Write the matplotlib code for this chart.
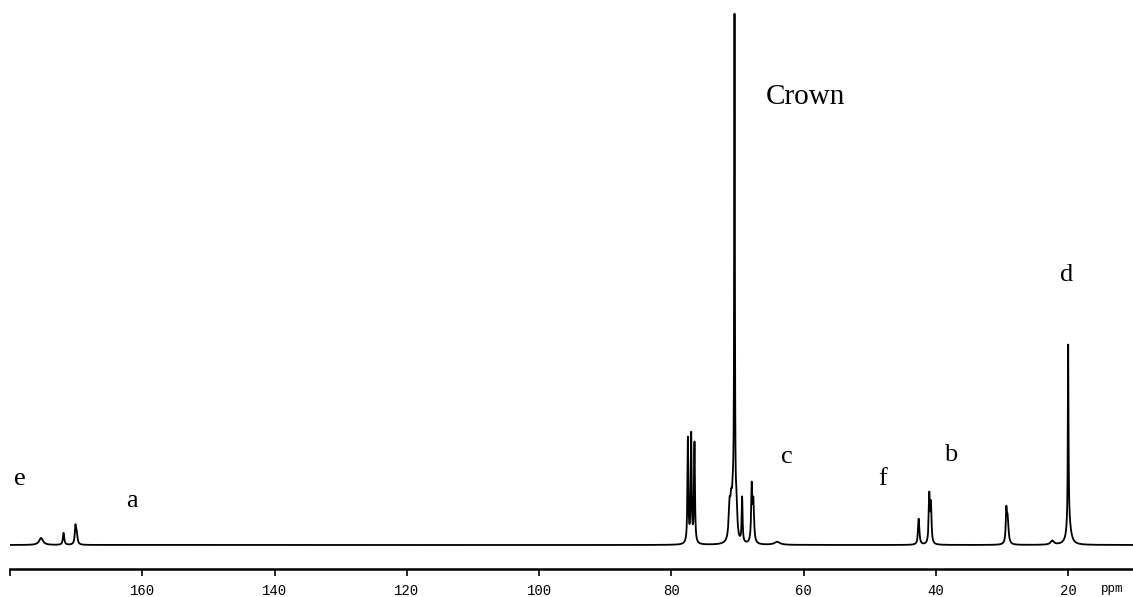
import numpy as np
import matplotlib
matplotlib.use('Agg')
import matplotlib.pyplot as plt

# peak list: position (ppm), height (a.u.), half width (ppm)
peak_ppm = [175.3, 171.9, 170.1, 169.9, 77.5, 77.0, 76.5, 71.2, 70.95, 70.7, 70.45, 70.15,
            69.3, 67.85, 67.6, 64.0, 42.6, 41.0, 40.75, 29.35, 29.15, 22.4, 20.0, 19.9]
peak_height = [7, 12, 18, 10, 105, 108, 100, 32, 30, 32, 512, 30,
               45, 55, 40, 3, 26, 48, 38, 30, 25, 4, 180, 22]
peak_width = [0.35, 0.12, 0.12, 0.12, 0.08, 0.08, 0.08, 0.16, 0.16, 0.16, 0.06, 0.14,
              0.08, 0.1, 0.12, 0.5, 0.12, 0.1, 0.1, 0.1, 0.15, 0.3, 0.06, 0.35]

tick_vals = [160, 140, 120, 100, 80, 60, 40, 20]
labels = ['e', 'a', 'Crown', 'c', 'f', 'b', 'd']
label_ppm = [178.5, 161.6, 59.8, 62.5, 48.0, 37.7, 20.3]
label_y = [66, 44, 448, 88, 66, 90, 270]

x = np.arange(10.2, 180.0, 0.005)
y = np.zeros_like(x)
for p, h, w in zip(peak_ppm, peak_height, peak_width):
    y += h * w**2 / ((x - p)**2 + w**2)

fig = plt.figure(figsize=(11.33, 5.97), dpi=100)
ax = fig.add_axes([10/1133, 28/597, 1123/1133, 563/597])
ax.plot(x, y, color='black', lw=1.3)
ax.set_xlim(180.0, 10.2)
ax.set_ylim(-24, 539)

for s in ['top', 'right', 'left']:
    ax.spines[s].set_visible(False)
ax.spines['bottom'].set_linewidth(1.8)
ax.set_yticks([])
ax.set_xticks([180] + tick_vals)
ax.set_xticklabels([''] + [str(t) for t in tick_vals], family='Liberation Mono', fontsize=10)
ax.tick_params(axis='x', direction='out', length=5, width=1.2, pad=6)
ax.text(15.1, -44, 'ppm', family='Liberation Mono', fontsize=9, ha='left', va='center', clip_on=False)

for t, p, yy in zip(labels, label_ppm, label_y):
    ax.text(p, yy, t, family='Liberation Serif', fontsize=21 if t == 'Crown' else 19,
            ha='center', va='center')

fig.savefig('out.png', dpi=100)
